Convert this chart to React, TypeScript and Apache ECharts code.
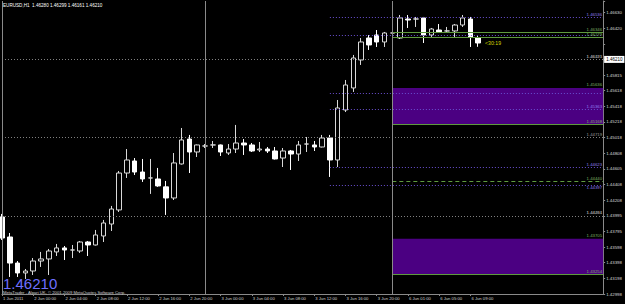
import React, { useEffect, useRef } from "react";
import * as echarts from "echarts";

const timeLabels = ["1 Jun 2011","2 Jun 00:00","2 Jun 04:00","2 Jun 08:00","2 Jun 12:00","2 Jun 16:00","2 Jun 20:00","3 Jun 00:00","3 Jun 04:00","3 Jun 08:00","3 Jun 12:00","3 Jun 16:00","3 Jun 20:00","6 Jun 01:00","6 Jun 05:00","6 Jun 09:00"];
const priceLabels = ["1.42998","1.43198","1.43398","1.43598","1.43795","1.43995","1.44208","1.44408","1.44605","1.44808","1.45018","1.45218","1.45418","1.45618","1.45815","1.46015","","1.46420","1.46630"];

const opens  = [1.43985,1.43729,1.43396,1.43269,1.43294,1.43422,1.43448,1.43538,1.43589,1.43563,1.43550,1.43665,1.43627,1.43742,1.43895,1.44075,1.44547,1.44701,1.44560,1.44484,1.44471,1.44370,1.44228,1.44663,1.44982,1.44816,1.44893,1.44906,1.44906,1.44803,1.44854,1.44931,1.44906,1.44842,1.44854,1.44829,1.44739,1.44829,1.44790,1.44918,1.44906,1.44880,1.44995,1.44714,1.45353,1.45635,1.45993,1.46274,1.46312,1.46223,1.46338,1.46274,1.46517,1.46517,1.46530,1.46312,1.46376,1.46364,1.46364,1.46440,1.46517,1.46280];
const closes = [1.43716,1.43396,1.43269,1.43294,1.43422,1.43448,1.43550,1.43589,1.43563,1.43563,1.43665,1.43627,1.43755,1.43908,1.44087,1.44547,1.44714,1.44560,1.44471,1.44484,1.44382,1.44228,1.44676,1.44970,1.44816,1.44906,1.44893,1.44906,1.44816,1.44854,1.44931,1.44906,1.44829,1.44854,1.44829,1.44727,1.44829,1.44790,1.44906,1.44918,1.44880,1.44995,1.44714,1.45379,1.45673,1.46018,1.46223,1.46185,1.46223,1.46338,1.46338,1.46530,1.46504,1.46517,1.46312,1.46389,1.46351,1.46364,1.46440,1.46530,1.46280,1.46210];
const lows   = [1.43691,1.43218,1.43218,1.43192,1.43243,1.43346,1.43243,1.43486,1.43435,1.43460,1.43525,1.43486,1.43620,1.43665,1.43806,1.44049,1.44484,1.44522,1.44433,1.44280,1.44370,1.44011,1.44202,1.44655,1.44547,1.44752,1.44867,1.44867,1.44765,1.44778,1.44803,1.44778,1.44816,1.44816,1.44803,1.44720,1.44624,1.44586,1.44701,1.44816,1.44829,1.44875,1.44497,1.44624,1.45327,1.45584,1.45929,1.46121,1.46159,1.46159,1.46300,1.46261,1.46402,1.46415,1.46210,1.46287,1.46338,1.46338,1.46287,1.46415,1.46159,1.46161];
const highs  = [1.44024,1.43780,1.43422,1.43320,1.43460,1.43538,1.43576,1.43640,1.43614,1.43627,1.43678,1.43678,1.43819,1.43947,1.44126,1.44573,1.44854,1.44739,1.44727,1.44727,1.44612,1.44446,1.44803,1.45123,1.45034,1.44912,1.44918,1.44957,1.44912,1.44918,1.45162,1.44982,1.44931,1.44944,1.44880,1.44880,1.44867,1.44842,1.44957,1.45008,1.44957,1.45034,1.45034,1.45481,1.45737,1.46057,1.46274,1.46312,1.46376,1.46351,1.46364,1.46568,1.46568,1.46543,1.46543,1.46402,1.46453,1.46415,1.46453,1.46568,1.46543,1.46299];

const grayLevels = [1.46649, 1.46421, 1.46193, 1.44719, 1.44491, 1.44264];
const purpleLevels = [1.46536, 1.46312, 1.45571, 1.45363, 1.44623, 1.44397];
const purpleLabeled = [1.46536, 1.45363, 1.44623, 1.44397];
const greenLevels = [1.46346, 1.46279, 1.44440, 1.45168, 1.43254];
const boxes = [[1.45636, 1.45168], [1.43705, 1.43254]];
const boxLabels = [1.45636, 1.43705];
const separators = [26, 50];
const bid = 1.4621;
const titleText = "EURUSD,H1  1.46280 1.46299 1.46161 1.46210";

const SLOTS = 78;
const categories = Array.from({ length: SLOTS }, (_, i) => String(i));
const FONT = '"Liberation Sans", Arial, sans-serif';

export default function App() {
  const ref = useRef<HTMLDivElement>(null);
  useEffect(() => {
    const chart = echarts.init(ref.current!, null, { renderer: "svg" });
    const lineLabel = (v: number, color: string, below = false) => ({
      show: true, formatter: v.toFixed(5), position: below ? "insideEndBottom" : "insideEndTop", color,
      fontSize: 4.3, fontFamily: FONT, distance: [1, 1],
    });
    const mlData: any[] = [];
    grayLevels.forEach((v) => mlData.push({ yAxis: v, lineStyle: { color: "#808080", type: [1, 2], width: 1 }, label: lineLabel(v, "#9a9a9a") }));
    purpleLevels.forEach((v) => mlData.push([
      { coord: [42, v], lineStyle: { color: "#6a4fd0", type: [1, 2], width: 1 }, label: purpleLabeled.includes(v) ? lineLabel(v, "#8f7fe8", v === 1.44397) : { show: false } },
      { coord: [SLOTS - 1, v] },
    ]));
    greenLevels.forEach((v) => mlData.push([
      { coord: [50, v], lineStyle: { color: "#5f9a3f", type: v === 1.4444 ? [4, 3] : "solid", width: 1 }, label: lineLabel(v, "#7fb060") },
      { coord: [SLOTS - 1, v] },
    ]));
    boxLabels.forEach((v) => mlData.push([
      { coord: [50, v], lineStyle: { color: "#4B0082", width: 0 }, label: lineLabel(v, "#7fb060") },
      { coord: [SLOTS - 1, v] },
    ]));
    separators.forEach((s) => mlData.push({ xAxis: s, lineStyle: { color: "#8a8a8a", type: "solid", width: 1 }, label: { show: false } }));
    mlData.push({
      yAxis: bid, lineStyle: { color: "rgba(0,0,0,0)", width: 0 },
      label: { show: true, position: "end", formatter: bid.toFixed(5), backgroundColor: "#ffffff", color: "#000000", fontSize: 4.5, fontFamily: FONT, padding: [1, 2], distance: 1 },
    });

    const option: any = {
      animation: false,
      backgroundColor: "#000000",
      grid: { left: 2, right: 19, top: 1, bottom: 10 },
      xAxis: {
        type: "category", data: categories, boundaryGap: false,
        axisLine: { lineStyle: { color: "#8a8a8a", width: 1 } },
        axisTick: { show: true, length: 2, interval: (i: number) => i % 4 === 0 && i / 4 < timeLabels.length, lineStyle: { color: "#8a8a8a" } },
        axisLabel: {
          interval: (i: number) => i % 4 === 0 && i / 4 < timeLabels.length,
          formatter: (_v: string, i: number) => timeLabels[i / 4] ?? "",
          align: "left", color: "#d0d0d0", fontSize: 4.2, fontFamily: FONT, margin: 2, padding: [0, 0, 0, 1],
        },
        splitLine: { show: false },
      },
      yAxis: {
        type: "value", position: "right", min: 1.43, max: 1.46747, interval: 0.002, scale: true,
        axisLine: { show: true, lineStyle: { color: "#8a8a8a", width: 1 } },
        axisTick: { show: true, length: 2, lineStyle: { color: "#8a8a8a" } },
        axisLabel: {
          color: "#d8d8d8", fontSize: 4.4, fontFamily: FONT, margin: 3,
          formatter: (v: number) => {
            const k = (v - 1.43) / 0.002;
            if (Math.abs(k - Math.round(k)) > 0.01) return "";
            return priceLabels[Math.round(k)] ?? "";
          },
        },
        splitLine: { show: false },
      },
      graphic: [
        { type: "line", shape: { x1: 2.5, y1: 1, x2: 2.5, y2: 294 }, style: { stroke: "#8a8a8a", lineWidth: 1 }, z: 10 },
        { type: "text", x: 3, y: 3, style: { text: titleText, fill: "#ffffff", fontSize: 4.6, fontFamily: FONT, verticalAlign: "top" }, z: 20 },
        { type: "text", x: 3, y: 290.6, style: { text: bid.toFixed(5), fill: "#6f6fff", fontSize: 15, fontFamily: FONT, verticalAlign: "bottom" }, z: 20 },
        { type: "text", x: 3, y: 290.8, style: { text: "MetaTrader - Alpari UK, \u00a9 2001-2009 MetaQuotes Software Corp.", fill: "#d0d0d0", fontSize: 4.2, fontFamily: FONT, verticalAlign: "top" }, z: 20 },
        { type: "text", x: 485, y: 40, style: { text: "<30:19", fill: "#d8d800", fontSize: 5.2, fontFamily: FONT, verticalAlign: "top" }, z: 20 },
      ],
      series: [{
        type: "candlestick",
        data: opens.map((o, i) => [o, closes[i], lows[i], highs[i]]),
        barWidth: 5, clip: false,
        itemStyle: { color: "#000000", color0: "#ffffff", borderColor: "#d8d8d8", borderColor0: "#ffffff", borderColorDoji: "#d8d8d8", borderWidth: 1 },
        markArea: {
          silent: true,
          itemStyle: { color: "#4B0082", opacity: 1 },
          data: boxes.map(([a, b]) => [{ coord: [50, a] }, { coord: [SLOTS - 1, b] }]),
        },
        markLine: { silent: true, symbol: ["none", "none"], animation: false, data: mlData },
      }],
    };
    chart.setOption(option);
    return () => chart.dispose();
  }, []);
  return <div ref={ref} style={{ position: "absolute", left: 0, top: 0, width: 625, height: 304, background: "#000" }} />;
}
